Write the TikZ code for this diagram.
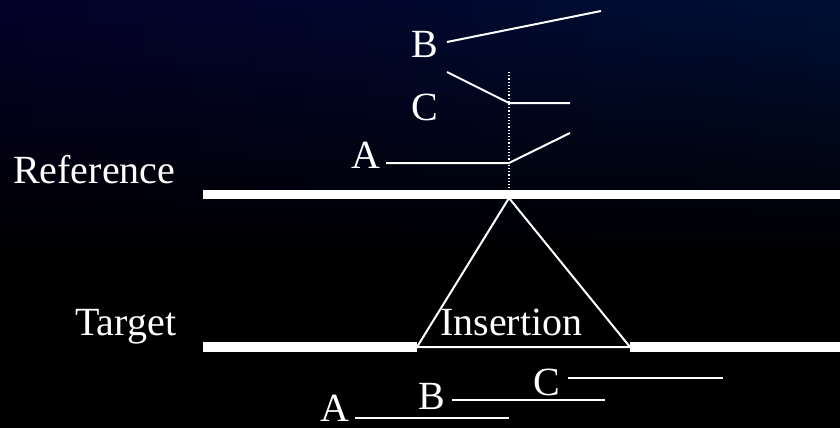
\documentclass[tikz,border=0pt]{standalone}
\usepackage{fontspec}
\setmainfont{Liberation Serif}
\usetikzlibrary{fadings}
\definecolor{navytop}{RGB}{5,1,42}
\definecolor{bluetop}{RGB}{0,16,54}
\begin{document}
\begin{tikzpicture}[x=1pt,y=-1pt,
  lbl/.style={text=white,inner sep=0pt,anchor=base west,font=\fontsize{40}{48}\selectfont},
  seg/.style={draw=white,line width=2pt},
  bar/.style={draw=white,line width=9.5pt},
  guide/.style={draw=white,line width=1.2pt,dotted}]
\useasboundingbox (0,0) rectangle (840,428);
\fill[black] (0,0) rectangle (840,428);
\shade[left color=navytop,right color=bluetop,path fading=south] (0,0) rectangle (840,260);
% labels
\node[lbl] (ref) at (13,183) {Reference};
\node[lbl] (tgt) at (75,335) {Target};
\node[lbl] (ins) at (440,335) {Insertion};
\node[lbl] (rA) at (351,168) {A};
\node[lbl] (rB) at (411,58) {B};
\node[lbl] (rC) at (411,120) {C};
\node[lbl] (tA) at (320,421) {A};
\node[lbl] (tB) at (418,409) {B};
\node[lbl] (tC) at (533,395) {C};
% coordinates
\coordinate (refL) at (203,194.5);
\coordinate (refR) at (840,194.5);
\coordinate (tL1) at (203,347);
\coordinate (tL2) at (417,347);
\coordinate (tR1) at (630,347);
\coordinate (tR2) at (840,347);
\coordinate (apex) at (509,198);
\coordinate (gTop) at (509,72);
\coordinate (gBot) at (509,190);
\coordinate (a1) at (386,163);
\coordinate (a2) at (509,163);
\coordinate (a3) at (570,133);
\coordinate (c1) at (447,72);
\coordinate (c2) at (509,103);
\coordinate (c3) at (570,103);
\coordinate (b1) at (447,42);
\coordinate (b2) at (601,11);
\coordinate (ta1) at (355,418);
\coordinate (ta2) at (509,418);
\coordinate (tb1) at (452,400);
\coordinate (tb2) at (605,400);
\coordinate (tc1) at (568,378);
\coordinate (tc2) at (723,378);
% bars
\draw[bar] (refL) -- (refR);
\draw[bar] (tL1) -- (tL2);
\draw[bar] (tR1) -- (tR2);
% triangle
\draw[seg,line join=miter] (tL2) -- (apex) -- (tR1) -- cycle;
% guide
\draw[guide] (gTop) -- (gBot);
% reference segments
\draw[seg] (a1) -- (a2) -- (a3);
\draw[seg] (c1) -- (c2) -- (c3);
\draw[seg] (b1) -- (b2);
% target segments
\draw[seg] (ta1) -- (ta2);
\draw[seg] (tb1) -- (tb2);
\draw[seg] (tc1) -- (tc2);
\end{tikzpicture}
\end{document}
